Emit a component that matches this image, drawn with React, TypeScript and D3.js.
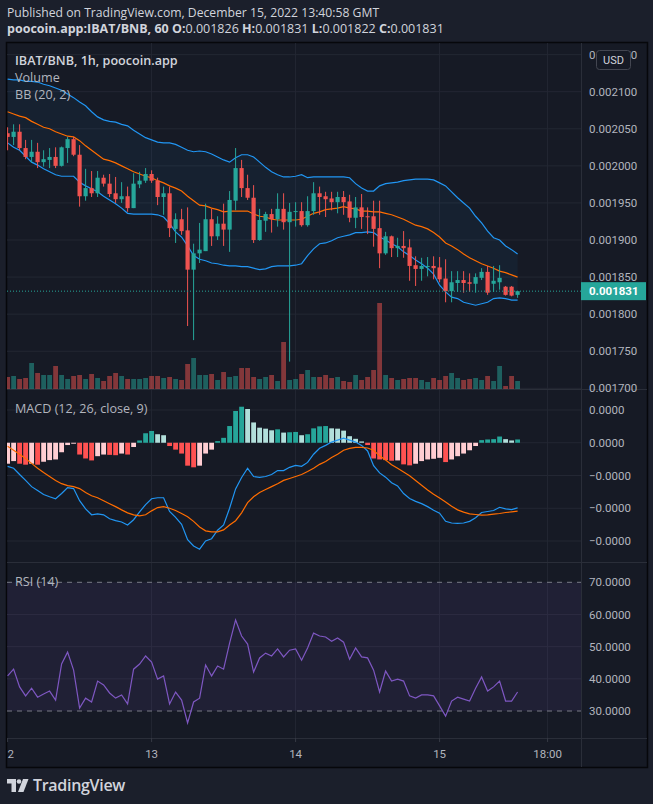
import * as d3 from 'd3';
import React from 'react';

// hourly bars, 12 Dec 2022 00:00 -> 15 Dec 2022 13:00 (UTC)
const FIRST_BAR = Date.UTC(2022, 11, 12, 0);

// prices in 1e-6 BNB
const openU = [
  2044, 2039, 2046, 2024, 2012, 2019, 2005, 2008, 2012, 2000,
  2024, 2036, 2015, 1959, 1970, 1963, 1984, 1976, 1963, 1955,
  1959, 1943, 1975, 1980, 1989, 1980, 1958, 1963, 1915, 1928,
  1913, 1860, 1882, 1885, 1928, 1905, 1922, 1914, 1953, 1997,
  1970, 1957, 1900, 1926, 1935, 1928, 1942, 1924, 1938, 1939,
  1920, 1939, 1963, 1959, 1956, 1951, 1958, 1952, 1930, 1944,
  1932, 1932, 1916, 1882, 1905, 1889, 1892, 1890, 1866, 1861,
  1864, 1865, 1863, 1848, 1831, 1842, 1846, 1843, 1841, 1849,
  1857, 1841, 1843, 1837, 1837, 1826,
];
const highU = [
  2052, 2056, 2056, 2035, 2035, 2031, 2021, 2024, 2025, 2026,
  2039, 2039, 2028, 1996, 1993, 1993, 1988, 1989, 1985, 1978,
  1972, 1990, 1992, 1997, 1994, 1984, 1972, 1972, 1936, 1942,
  1944, 1895, 1923, 1949, 1942, 1932, 1949, 1966, 2024, 2008,
  1988, 1974, 1942, 1938, 1942, 1963, 1963, 1950, 1951, 1951,
  1959, 1978, 1972, 1965, 1965, 1965, 1966, 1961, 1958, 1962,
  1944, 1953, 1953, 1911, 1906, 1903, 1912, 1901, 1878, 1876,
  1877, 1878, 1877, 1874, 1858, 1858, 1858, 1855, 1855, 1862,
  1865, 1865, 1866, 1838, 1838, 1831,
];
const lowU = [
  2021, 2028, 2021, 2009, 2004, 1997, 1999, 1997, 1997, 1999,
  2004, 2013, 1945, 1953, 1958, 1958, 1972, 1958, 1950, 1950,
  1938, 1943, 1970, 1977, 1977, 1947, 1934, 1904, 1896, 1907,
  1784, 1765, 1869, 1885, 1892, 1900, 1892, 1884, 1940, 1958,
  1954, 1896, 1899, 1911, 1910, 1918, 1914, 1736, 1918, 1918,
  1918, 1934, 1934, 1931, 1940, 1936, 1934, 1924, 1916, 1915,
  1908, 1891, 1862, 1880, 1877, 1877, 1876, 1845, 1838, 1845,
  1851, 1847, 1843, 1816, 1816, 1830, 1829, 1830, 1829, 1846,
  1826, 1830, 1833, 1825, 1824, 1822,
];
const closeU = [
  2039, 2046, 2024, 2012, 2019, 2005, 2009, 2012, 2000, 2025,
  2036, 2015, 1959, 1970, 1963, 1984, 1976, 1962, 1955, 1959,
  1943, 1976, 1980, 1989, 1980, 1958, 1963, 1916, 1928, 1912,
  1860, 1882, 1887, 1928, 1905, 1922, 1914, 1954, 1997, 1970,
  1957, 1900, 1927, 1935, 1928, 1942, 1924, 1938, 1939, 1920,
  1939, 1963, 1958, 1955, 1951, 1958, 1951, 1930, 1944, 1931,
  1931, 1915, 1882, 1905, 1889, 1892, 1889, 1865, 1861, 1865,
  1865, 1862, 1847, 1831, 1843, 1846, 1842, 1841, 1850, 1857,
  1829, 1845, 1849, 1826, 1825, 1831,
];
// relative volume
const volume = [
  12, 13, 10, 11, 26, 16, 14, 14, 23, 14,
  10, 13, 14, 10, 15, 11, 8, 13, 16, 13,
  10, 10, 10, 11, 13, 13, 11, 12, 10, 9,
  25, 31, 14, 14, 15, 9, 17, 12, 13, 21,
  21, 12, 10, 12, 14, 8, 47, 9, 10, 15,
  19, 12, 12, 14, 11, 12, 8, 7, 14, 9,
  12, 19, 86, 14, 11, 9, 10, 11, 11, 9,
  7, 11, 9, 13, 16, 11, 9, 10, 11, 9,
  13, 8, 23, 3, 13, 8,
];
// Bollinger bands (20, 2), 1e-6 BNB
const bbUpperU = [
  2117, 2116, 2116, 2114, 2114, 2113, 2110, 2108, 2105, 2102,
  2097, 2092, 2086, 2081, 2073, 2066, 2062, 2060, 2059, 2056,
  2054, 2048, 2043, 2038, 2035, 2032, 2031, 2031, 2029, 2025,
  2021, 2019, 2020, 2019, 2016, 2012, 2008, 2005, 2011, 2015,
  2015, 2012, 2005, 1998, 1992, 1988, 1985, 1985, 1986, 1988,
  1984, 1985, 1985, 1985, 1985, 1985, 1985, 1984, 1976, 1970,
  1966, 1966, 1973, 1976, 1977, 1978, 1980, 1981, 1982, 1982,
  1982, 1981, 1977, 1973, 1965, 1957, 1950, 1943, 1932, 1923,
  1912, 1903, 1900, 1892, 1887, 1881,
];
const bbBasisU = [
  2073, 2070, 2067, 2065, 2060, 2056, 2052, 2050, 2046, 2043,
  2040, 2039, 2034, 2027, 2021, 2015, 2009, 2007, 2004, 2000,
  1996, 1992, 1989, 1986, 1984, 1980, 1977, 1973, 1970, 1966,
  1959, 1953, 1947, 1946, 1943, 1941, 1938, 1939, 1939, 1939,
  1939, 1935, 1932, 1931, 1928, 1927, 1927, 1927, 1927, 1928,
  1932, 1936, 1938, 1941, 1942, 1943, 1945, 1943, 1942, 1939,
  1939, 1938, 1938, 1936, 1934, 1931, 1928, 1924, 1920, 1918,
  1915, 1910, 1904, 1896, 1892, 1887, 1881, 1876, 1872, 1868,
  1865, 1862, 1858, 1856, 1853, 1850,
];
const bbLowerU = [
  2031, 2025, 2021, 2013, 2005, 2001, 1996, 1992, 1988, 1986,
  1986, 1986, 1978, 1973, 1969, 1965, 1959, 1954, 1949, 1943,
  1936, 1935, 1935, 1935, 1935, 1934, 1931, 1922, 1911, 1904,
  1892, 1879, 1874, 1872, 1869, 1868, 1866, 1865, 1865, 1864,
  1864, 1862, 1860, 1861, 1864, 1865, 1865, 1865, 1866, 1868,
  1879, 1888, 1895, 1896, 1899, 1903, 1905, 1907, 1910, 1910,
  1911, 1910, 1904, 1900, 1895, 1891, 1884, 1879, 1873, 1868,
  1862, 1854, 1839, 1830, 1823, 1821, 1816, 1814, 1812, 1814,
  1816, 1821, 1822, 1821, 1819, 1819,
];
// MACD (12, 26, close, 9), values in 1e-6
const macdU = [
  -7.2, -7.8, -9.7, -11.5, -13.4, -14.6, -15.8, -16.5, -17.1, -15.5,
  -13.7, -14.0, -17.7, -20.2, -22.0, -21.7, -22.0, -23.2, -23.8, -24.2,
  -25.1, -23.5, -21.1, -18.9, -17.1, -16.8, -16.8, -21.0, -22.8, -24.9,
  -29.6, -31.5, -32.5, -30.0, -29.3, -26.7, -25.1, -20.0, -14.1, -10.6,
  -7.8, -10.3, -10.6, -10.3, -9.7, -8.5, -8.5, -7.5, -6.9, -7.2,
  -6.0, -3.5, -1.7, -0.8, 0.2, 0.8, 1.4, 0.8, 0.2, -0.8,
  -2.5, -7.0, -9.2, -10.5, -12.2, -13.2, -15.5, -17.0, -17.9, -18.6,
  -19.5, -20.6, -21.5, -24.0, -24.5, -24.6, -24.5, -24.0, -22.9, -21.3,
  -21.0, -20.7, -19.7, -20.2, -20.4, -19.9,
];
const signalU = [
  -1.1, -2.3, -3.5, -4.8, -6.3, -7.8, -9.1, -10.3, -11.5, -12.5,
  -13.1, -13.4, -14.0, -15.2, -16.2, -16.8, -17.7, -18.6, -19.5, -20.5,
  -21.4, -22.0, -22.3, -22.0, -20.8, -19.8, -19.5, -20.0, -20.7, -21.6,
  -22.6, -24.0, -25.7, -26.9, -27.2, -27.2, -26.6, -25.1, -23.8, -21.4,
  -18.3, -16.5, -15.2, -14.3, -13.4, -12.5, -11.5, -10.9, -10.3, -9.7,
  -8.8, -7.8, -6.6, -5.7, -4.5, -3.5, -2.3, -1.7, -1.4, -1.4,
  -1.6, -2.3, -4.0, -5.3, -6.7, -7.8, -8.9, -10.1, -11.5, -13.0,
  -14.4, -15.7, -16.9, -18.1, -19.4, -20.5, -21.2, -21.7, -21.9, -22.1,
  -22.0, -21.8, -21.6, -21.3, -21.1, -20.9,
];
const histU = [
  -6.4, -5.6, -6.4, -6.7, -6.4, -6.7, -5.8, -5.3, -5.1, -2.9,
  -0.7, -0.3, -3.6, -4.8, -5.4, -4.1, -3.6, -3.7, -3.8, -3.3,
  -3.6, -1.3, 0.7, 2.9, 3.6, 2.6, 2.3, -1.0, -2.1, -3.3,
  -7.0, -7.5, -7.0, -3.3, -2.1, 0.5, 1.5, 5.1, 9.7, 11.0,
  10.3, 6.2, 4.6, 4.3, 3.8, 4.1, 3.1, 3.2, 3.3, 2.3,
  2.6, 4.4, 5.0, 5.1, 4.4, 4.3, 3.7, 2.0, 1.2, 0.4,
  -0.7, -4.8, -5.1, -5.3, -5.5, -5.4, -6.6, -6.9, -6.4, -5.6,
  -5.1, -4.9, -4.6, -5.9, -5.1, -4.1, -3.3, -2.3, -1.0, 0.8,
  1.0, 1.1, 1.9, 1.1, 0.7, 1.0,
];
// RSI (14)
const rsi = [
  40.9, 43.0, 37.5, 34.7, 37.1, 34.3, 35.3, 36.2, 33.4, 44.6,
  48.3, 42.7, 30.9, 34.0, 32.8, 39.3, 38.1, 35.6, 34.0, 35.0,
  32.2, 43.0, 44.6, 47.1, 45.2, 39.9, 40.9, 32.2, 35.9, 33.4,
  26.3, 32.8, 34.0, 44.3, 40.9, 44.0, 43.0, 51.1, 58.3, 53.3,
  50.8, 42.1, 46.5, 48.0, 47.1, 49.3, 46.8, 48.9, 49.3, 45.8,
  49.6, 54.2, 53.3, 53.0, 51.7, 52.7, 51.4, 46.1, 49.6, 46.8,
  46.5, 42.7, 35.9, 42.4, 39.3, 39.9, 39.3, 34.7, 34.0, 35.0,
  35.0, 34.7, 31.6, 28.4, 33.1, 34.3, 33.7, 33.1, 37.1, 40.6,
  36.2, 37.5, 39.3, 33.1, 33.1, 35.9,
];

const priceTicks = [0.00215, 0.0021, 0.00205, 0.002, 0.00195, 0.0019, 0.00185, 0.0018, 0.00175, 0.0017];
const macdTicks = [1e-5, 0, -1e-5, -2e-5, -3e-5];
const rsiTicks = [70, 60, 50, 40, 30];
const timeTicks = [
  { t: Date.UTC(2022, 11, 12), label: '12' },
  { t: Date.UTC(2022, 11, 13), label: '13' },
  { t: Date.UTC(2022, 11, 14), label: '14' },
  { t: Date.UTC(2022, 11, 15), label: '15' },
  { t: Date.UTC(2022, 11, 15, 18), label: '18:00' },
];
const LAST_PRICE = 0.001831;

const UP = '#26a69a';
const DOWN = '#ef5350';
const BLUE = '#2196f3';
const ORANGE = '#ff6d00';
const TEXT = '#d1d4dc';
const AXIS_TEXT = '#b2b5be';
const GRID = '#232733';
const SEP = '#2a2e39';
const BG_OUT = '#1b1f2b';
const BG = '#161a25';
const FONT = '"Open Sans", "Noto Sans", sans-serif';
const AXIS_FONT = 'Roboto, "Noto Sans", sans-serif';

// frame
const L = 7, PR = 581, R = 647;
const MAIN = [43, 389], MACD = [390, 562], RSI = [563, 738], AXIS_B = 767;

const App = () => {
  const bars = openU.map((o, i) => ({
    t: new Date(FIRST_BAR + i * 3600e3),
    o: o / 1e6, h: highU[i] / 1e6, l: lowU[i] / 1e6, c: closeU[i] / 1e6,
    v: volume[i],
  }));

  const x = d3.scaleUtc()
    .domain([new Date(Date.UTC(2022, 11, 13)), new Date(Date.UTC(2022, 11, 14))])
    .range([151.6, 295.6]);
  const step = x(new Date(FIRST_BAR + 3600e3)) - x(new Date(FIRST_BAR));
  const yP = d3.scaleLinear().domain([0.0017, 0.0021]).range([388.3, 91.7]);
  const yV = d3.scaleLinear().domain([0, 100]).range([389, 289]);
  const yM = d3.scaleLinear().domain([-3e-5, 1e-5]).range([541, 410]);
  const yR = d3.scaleLinear().domain([30, 70]).range([711, 582.3]);

  const xi = (i: number) => x(bars[i].t);
  const priceLine = d3.line<number>().x((_, i) => xi(i)).y(v => yP(v / 1e6));
  const bbArea = d3.area<number>()
    .x((_, i) => xi(i))
    .y0((_, i) => yP(bbLowerU[i] / 1e6))
    .y1(v => yP(v / 1e6));
  const macdLine = d3.line<number>().x((_, i) => xi(i)).y(v => yM(v * 1e-6));
  const rsiLine = d3.line<number>().x((_, i) => xi(i)).y(v => yR(v));

  const histColor = (i: number) => {
    const v = histU[i];
    const p = i > 0 ? histU[i - 1] : v;
    if (v >= 0) return v >= p ? '#26a69a' : '#b2dfdb';
    return v < p ? '#ff5252' : '#ffcdd2';
  };

  const fmtPrice = d3.format('.6f');
  const fmtMacd = (v: number) => (v < 0 ? '\u22120.0000' : '0.0000');
  const gridX = timeTicks.slice(1).map(d => x(new Date(d.t)));

  return (
    <svg width={653} height={804} style={{ position: 'absolute', left: 0, top: 0, display: 'block' }}
      fontFamily={FONT}>
      <defs>
        <clipPath id="clipMain"><rect x={L} y={MAIN[0]} width={PR - L} height={MAIN[1] - MAIN[0]} /></clipPath>
        <clipPath id="clipMacd"><rect x={L} y={MACD[0]} width={PR - L} height={MACD[1] - MACD[0]} /></clipPath>
        <clipPath id="clipRsi"><rect x={L} y={RSI[0]} width={PR - L} height={RSI[1] - RSI[0]} /></clipPath>
        <clipPath id="clipAxis"><rect x={L} y={RSI[1]} width={PR - L} height={AXIS_B - RSI[1]} /></clipPath>
      </defs>
      <rect width={653} height={804} fill={BG_OUT} />

      {/* header */}
      <text x={7} y={17} fontSize={12.2} fill={TEXT}>Published on TradingView.com, December 15, 2022 13:40:58 GMT</text>
      <text x={7} y={33} fontSize={12.5} fill={TEXT}>
        <tspan fontWeight={700}>poocoin.app:IBAT/BNB, 60 </tspan>
        <tspan fontWeight={700}>O:</tspan><tspan>0.001826 </tspan>
        <tspan fontWeight={700}>H:</tspan><tspan>0.001831 </tspan>
        <tspan fontWeight={700}>L:</tspan><tspan>0.001822 </tspan>
        <tspan fontWeight={700}>C:</tspan><tspan>0.001831</tspan>
      </text>

      {/* frame */}
      <rect x={L - 0.5} y={MAIN[0] - 0.5} width={R - L + 1} height={AXIS_B - MAIN[0] + 1} fill={BG} stroke="#06070b" strokeWidth={1.5} />

      {/* grids */}
      <g stroke={GRID} strokeWidth={1}>
        {priceTicks.map(p => <line key={p} x1={L} x2={PR} y1={yP(p)} y2={yP(p)} />)}
        {macdTicks.map(v => <line key={v} x1={L} x2={PR} y1={yM(v)} y2={yM(v)} />)}
        {[60, 50, 40].map(v => <line key={v} x1={L} x2={PR} y1={yR(v)} y2={yR(v)} />)}
        {gridX.map(gx => <line key={gx} x1={gx} x2={gx} y1={MAIN[0]} y2={RSI[1]} />)}
      </g>

      {/* main pane */}
      <g clipPath="url(#clipMain)">
        {bars.map((b, i) => (
          <rect key={`v${i}`} x={xi(i) - step * 0.4} y={yV(b.v)} width={step * 0.8} height={yV(0) - yV(b.v)}
            fill={b.c >= b.o ? UP : DOWN} fillOpacity={0.5} />
        ))}
        <path d={bbArea(bbUpperU) || ''} fill={BLUE} fillOpacity={0.06} />
        <path d={priceLine(bbUpperU) || ''} fill="none" stroke={BLUE} strokeWidth={1.2} />
        <path d={priceLine(bbLowerU) || ''} fill="none" stroke={BLUE} strokeWidth={1.2} />
        <path d={priceLine(bbBasisU) || ''} fill="none" stroke={ORANGE} strokeWidth={1.2} />
        {bars.map((b, i) => {
          const cx = xi(i);
          const col = b.c >= b.o ? UP : DOWN;
          const top = yP(Math.max(b.o, b.c));
          const bot = yP(Math.min(b.o, b.c));
          return (
            <g key={`c${i}`}>
              <line x1={cx} x2={cx} y1={yP(b.h)} y2={yP(b.l)} stroke={col} strokeWidth={1} />
              <rect x={cx - step * 0.35} y={top} width={step * 0.7} height={Math.max(1, bot - top)} fill={col} />
            </g>
          );
        })}
        <line x1={L} x2={PR} y1={yP(LAST_PRICE)} y2={yP(LAST_PRICE)} stroke={UP} strokeWidth={1} strokeDasharray="1 2" />
      </g>
      <text x={15} y={65} fontSize={12.6} fontWeight={600} fill={TEXT}>IBAT/BNB, 1h, poocoin.app</text>
      <text x={15} y={82} fontSize={12.6} fill={AXIS_TEXT}>Volume</text>
      <text x={15} y={99} fontSize={12.6} fill={AXIS_TEXT}>BB (20, 2)</text>

      {/* MACD pane */}
      <g clipPath="url(#clipMacd)">
        {histU.map((v, i) => (
          <rect key={`h${i}`} x={xi(i) - step * 0.4} y={Math.min(yM(v * 1e-6), yM(0))} width={step * 0.8}
            height={Math.abs(yM(v * 1e-6) - yM(0))} fill={histColor(i)} />
        ))}
        <path d={macdLine(macdU) || ''} fill="none" stroke={BLUE} strokeWidth={1.2} />
        <path d={macdLine(signalU) || ''} fill="none" stroke={ORANGE} strokeWidth={1.2} />
      </g>
      <text x={15} y={413} fontSize={12.6} fill={AXIS_TEXT}>MACD (12, 26, close, 9)</text>

      {/* RSI pane */}
      <g clipPath="url(#clipRsi)">
        <rect x={L} y={yR(70)} width={PR - L} height={yR(30) - yR(70)} fill="#7e57c2" fillOpacity={0.1} />
        {[70, 30].map(v => (
          <line key={v} x1={L} x2={PR} y1={yR(v)} y2={yR(v)} stroke="#787b86" strokeDasharray="5 5" />
        ))}
        <path d={rsiLine(rsi) || ''} fill="none" stroke="#7e57c2" strokeWidth={1.2} />
      </g>
      <text x={15} y={586} fontSize={12.6} fill={AXIS_TEXT}>RSI (14)</text>

      {/* separators */}
      <g stroke={SEP} strokeWidth={1}>
        <line x1={L} x2={R} y1={MAIN[1] + 0.5} y2={MAIN[1] + 0.5} />
        <line x1={L} x2={R} y1={MACD[1] + 0.5} y2={MACD[1] + 0.5} />
        <line x1={L} x2={R} y1={RSI[1] + 0.5} y2={RSI[1] + 0.5} />
        <line x1={PR + 0.5} x2={PR + 0.5} y1={MAIN[0]} y2={AXIS_B} />
      </g>

      {/* price axis */}
      <g fontFamily={AXIS_FONT} fontSize={11.5} fill={AXIS_TEXT}>
        {priceTicks.map(p => (
          <text key={p} x={589} y={yP(p)} dy="0.35em">{fmtPrice(p)}</text>
        ))}
        {macdTicks.map(v => (
          <text key={v} x={589} y={yM(v)} dy="0.35em">{fmtMacd(v)}</text>
        ))}
        {rsiTicks.map(v => (
          <text key={v} x={589} y={yR(v)} dy="0.35em">{v.toFixed(4)}</text>
        ))}
      </g>
      <rect x={596.5} y={50.5} width={34} height={19} rx={3} fill={BG} stroke="#434651" />
      <text x={613.5} y={60} dy="0.35em" textAnchor="middle" fontFamily={AXIS_FONT} fontSize={11} fill={TEXT}>USD</text>
      <rect x={PR} y={yP(LAST_PRICE) - 9} width={R - PR - 1} height={18} fill={UP} />
      <text x={589} y={yP(LAST_PRICE)} dy="0.35em" fontFamily={AXIS_FONT} fontSize={11.5} fontWeight={700} fill="#ffffff">
        {fmtPrice(LAST_PRICE)}
      </text>

      {/* time axis */}
      <g clipPath="url(#clipAxis)" fontFamily={AXIS_FONT} fontSize={11.5} fill={AXIS_TEXT}>
        {timeTicks.map(d => {
          const tx = x(new Date(d.t));
          return (
            <g key={d.label}>
              <line x1={tx} x2={tx} y1={RSI[1]} y2={RSI[1] + 4} stroke="#363a45" />
              <text x={tx} y={754} dy="0.35em" textAnchor="middle">{d.label}</text>
            </g>
          );
        })}
      </g>

      {/* footer logo */}
      <g fill={TEXT}>
        <path d="M7 779 H16 V792 H11.5 V783.5 H7 Z" />
        <circle cx={19} cy={781.5} r={2.3} />
        <path d="M23 779 H28.5 L23.5 792 H18 Z" />
      </g>
      <text x={33} y={791} fontSize={16} fontWeight={600} fill={TEXT} letterSpacing={-0.3}>TradingView</text>
    </svg>
  );
};

export default App;
